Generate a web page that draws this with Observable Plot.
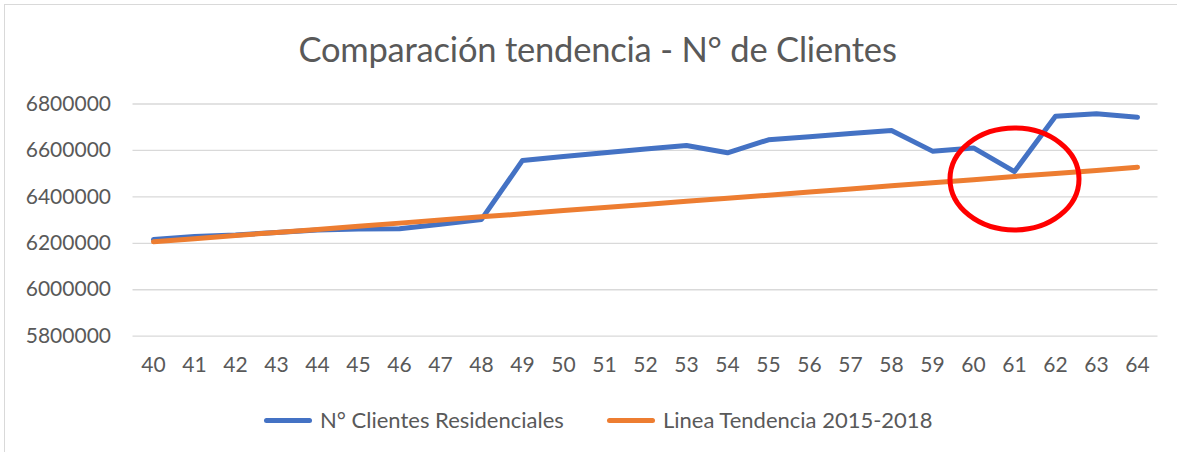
<!DOCTYPE html>
<html>
<head>
<meta charset="utf-8">
<script src="https://cdn.jsdelivr.net/npm/d3@7"></script>
<script src="https://cdn.jsdelivr.net/npm/@observablehq/plot@0.6"></script>
<style>
  html, body { margin: 0; padding: 0; background: #fff; }
  #frame { position: relative; width: 1177px; height: 452px; overflow: hidden; font-family: Lato, "Open Sans", sans-serif; color: #595959; }
  #border { position: absolute; left: 4px; top: 4px; width: 1300px; height: 600px; border: 1.5px solid #d9d9d9; box-sizing: border-box; }
  #title { position: absolute; left: 0; top: 27px; width: 1195px; text-align: center; font-size: 34.5px; font-weight: 400; line-height: 44px; letter-spacing: -0.2px; }
  #chart { position: absolute; left: 0; top: 80px; }
  .leg { position: absolute; top: 407px; font-size: 22px; line-height: 26px; display: flex; align-items: center; white-space: nowrap; }
  .sw { width: 48px; height: 5px; border-radius: 3px; margin-right: 8px; }
</style>
</head>
<body>
<div id="frame">
  <div id="border"></div>
  <div id="title">Comparación tendencia - N° de Clientes</div>
  <div id="chart"></div>
  <div class="leg" style="left:264px"><div class="sw" style="background:#4472C4"></div><span>N° Clientes Residenciales</span></div>
  <div class="leg" style="left:607px"><div class="sw" style="background:#ED7D31"></div><span>Linea Tendencia 2015-2018</span></div>
</div>
<script>
const categories = [40,41,42,43,44,45,46,47,48,49,50,51,52,53,54,55,56,57,58,59,60,61,62,63,64];
const clientesResidenciales = [6216000,6229000,6236000,6247000,6257000,6262000,6263000,6282000,6303000,6557000,6574000,6590000,6606000,6621000,6590000,6646000,6659000,6673000,6686000,6597000,6611000,6509000,6747000,6758000,6743000];
const lineaTendencia = [6207000,6220000,6234000,6247000,6260000,6274000,6287000,6300000,6314000,6327000,6341000,6354000,6367000,6381000,6394000,6407000,6421000,6434000,6448000,6461000,6474000,6488000,6501000,6514000,6528000];
const yTicks = [5800000,6000000,6200000,6400000,6600000,6800000];
const highlightCategory = 61;
const highlightValue = 6477000;

const blueData = categories.map((c, i) => ({cat: c, value: clientesResidenciales[i]}));
const orangeData = categories.map((c, i) => ({cat: c, value: lineaTendencia[i]}));
const highlight = [{cat: highlightCategory, value: highlightValue}];

const ellipseSymbol = {
  draw(context) {
    const rx = 64.5, ry = 51, k = 0.5523;
    context.moveTo(rx, 0);
    context.bezierCurveTo(rx, ry * k, rx * k, ry, 0, ry);
    context.bezierCurveTo(-rx * k, ry, -rx, ry * k, -rx, 0);
    context.bezierCurveTo(-rx, -ry * k, -rx * k, -ry, 0, -ry);
    context.bezierCurveTo(rx * k, -ry, rx, -ry * k, rx, 0);
    context.closePath();
  }
};

const chart = Plot.plot({
  width: 1177,
  height: 306,
  marginLeft: 132.5,
  marginRight: 19.5,
  marginTop: 23.5,
  marginBottom: 50.3,
  style: {fontFamily: "Lato, 'Open Sans', sans-serif", fontSize: "21px", color: "#595959", background: "transparent", overflow: "visible"},
  x: {type: "point", domain: categories, padding: 0.5},
  y: {domain: [5800000, 6800000]},
  marks: [
    Plot.ruleY(yTicks, {stroke: "#d9d9d9", strokeWidth: 1.3}),
    Plot.axisY({ticks: yTicks, tickFormat: d => String(d), tickSize: 0, tickPadding: 22, fill: "#595959", fontSize: 21, label: null}),
    Plot.axisX({tickSize: 0, tickPadding: 21, fill: "#595959", fontSize: 21, label: null}),
    Plot.line(blueData, {x: "cat", y: "value", stroke: "#4472C4", strokeWidth: 5, strokeLinecap: "round", strokeLinejoin: "round"}),
    Plot.line(orangeData, {x: "cat", y: "value", stroke: "#ED7D31", strokeWidth: 5, strokeLinecap: "round", strokeLinejoin: "round"}),
    Plot.dot(highlight, {x: "cat", y: "value", symbol: ellipseSymbol, stroke: "#FF0000", strokeWidth: 5, fill: "none"})
  ]
});
document.getElementById("chart").appendChild(chart);
</script>
</body>
</html>
